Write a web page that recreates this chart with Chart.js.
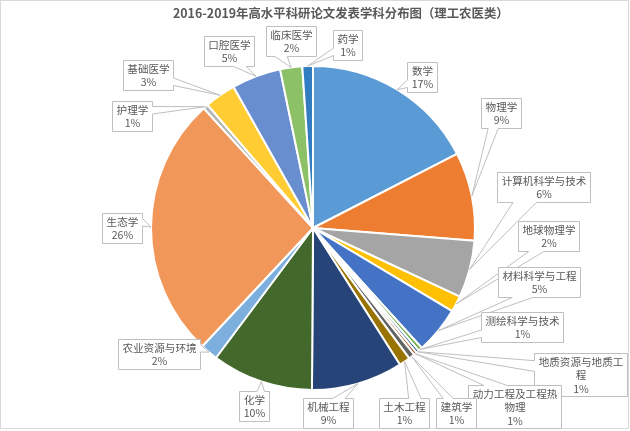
<!DOCTYPE html>
<html>
<head>
<meta charset="utf-8">
<script src="https://cdn.jsdelivr.net/npm/chart.js@4.4.0/dist/chart.umd.min.js"></script>
<style>
  html, body { margin: 0; padding: 0; background: #fff; }
  #wrap { position: relative; width: 630px; height: 431px; }
</style>
</head>
<body>
<div id="wrap"><canvas id="pie"></canvas></div>
<script>
const titleText = '2016-2019年高水平科研论文发表学科分布图（理工农医类）';

const subjects = ['数学', '物理学', '计算机科学与技术', '地球物理学', '材料科学与工程',
    '测绘科学与技术', '地质资源与地质工程', '动力工程及工程热物理', '建筑学', '土木工程',
    '机械工程', '化学', '农业资源与环境', '生态学', '护理学', '基础医学', '口腔医学',
    '临床医学', '药学'];

// share of the circle (%)
const shares = [17.4, 8.8, 5.7, 1.6, 4.7, 0.4, 0.3, 0.3, 0.6, 1.1,
    9.1, 10.1, 1.75, 26.2, 0.5, 3.1, 4.9, 2.2, 1.05];

// percentages as printed on the callouts
const shownPct = ['17%', '9%', '6%', '2%', '5%', '1%', '1%', '1%', '1%', '1%',
    '9%', '10%', '2%', '26%', '1%', '3%', '5%', '2%', '1%'];

const colors = ['#5B9BD5', '#ED7D31', '#A5A5A5', '#FFC000', '#4472C4', '#70AD47',
    '#255E91', '#9E480E', '#636363', '#997300', '#264478', '#43682B', '#7CAFDD',
    '#F1975A', '#B7B7B7', '#FFCD33', '#698ED0', '#8CC168', '#327DC2'];

// callout box centres, relative to the pie centre (layout only)
const calloutAt = [
    [108.5, -151], [187.5, -115.5], [230, -41.5], [235, 7.5], [225.5, 54],
    [209, 98.5], [267, 146], [201.5, 178.5], [142.5, 185], [91, 184.5],
    [15, 184.5], [-59, 178], [-154.5, 126], [-191, 0], [-181.5, -112],
    [-165.5, -153.5], [-84.5, -177], [-22.5, -187.5], [34, -183.5]
];

const labelFont = '10.6px "Noto Sans CJK SC", "Noto Sans", sans-serif';
const lineH = 13.5;

function wrapName(name) {
    const out = [];
    for (let i = 0; i < name.length; i += 8) out.push(name.slice(i, i + 8));
    return out;
}

// Excel style wedge-rectangle callout
function drawCallout(ctx, l, t, w, h, tx, ty) {
    const r = l + w, b = t + h;
    const dx = tx - (l + w / 2), dy = ty - (t + h / 2);
    const dz = Math.abs(dy) - Math.abs(dx * h / w);
    const x1 = l + w * (dx > 0 ? 7 : 2) / 12, x2 = l + w * (dx > 0 ? 10 : 5) / 12;
    const y1 = t + h * (dy > 0 ? 7 : 2) / 12, y2 = t + h * (dy > 0 ? 10 : 5) / 12;
    const side = dz > 0 ? (dy < 0 ? 'top' : 'bottom') : (dx < 0 ? 'left' : 'right');
    ctx.beginPath();
    ctx.moveTo(l, t);
    if (side === 'top') { ctx.lineTo(x1, t); ctx.lineTo(tx, ty); ctx.lineTo(x2, t); }
    ctx.lineTo(r, t);
    if (side === 'right') { ctx.lineTo(r, y1); ctx.lineTo(tx, ty); ctx.lineTo(r, y2); }
    ctx.lineTo(r, b);
    if (side === 'bottom') { ctx.lineTo(x2, b); ctx.lineTo(tx, ty); ctx.lineTo(x1, b); }
    ctx.lineTo(l, b);
    if (side === 'left') { ctx.lineTo(l, y2); ctx.lineTo(tx, ty); ctx.lineTo(l, y1); }
    ctx.closePath();
    ctx.fillStyle = '#FFFFFF';
    ctx.fill();
    ctx.strokeStyle = '#BFBFBF';
    ctx.lineWidth = 1;
    ctx.stroke();
}

const calloutPlugin = {
    id: 'callouts',
    afterDraw(chart) {
        const ctx = chart.ctx;
        const arcs = chart.getDatasetMeta(0).data;
        ctx.save();

        // chart frame
        ctx.strokeStyle = '#D9D9D9';
        ctx.lineWidth = 1;
        ctx.strokeRect(0.5, 0.5, 628, 428);

        // title
        ctx.fillStyle = '#595959';
        ctx.font = 'bold 12.4px "Noto Sans CJK SC", "Noto Sans", sans-serif';
        ctx.textAlign = 'left';
        ctx.textBaseline = 'middle';
        ctx.fillText(titleText, 173, 13);

        ctx.font = labelFont;
        arcs.forEach((arc, i) => {
            const p = arc.getProps(['x', 'y', 'startAngle', 'endAngle', 'outerRadius'], true);
            const mid = (p.startAngle + p.endAngle) / 2;
            const tx = p.x + Math.cos(mid) * p.outerRadius;
            const ty = p.y + Math.sin(mid) * p.outerRadius;
            const lines = wrapName(chart.data.labels[i]).concat([shownPct[i]]);
            const tw = Math.max(...lines.map(s => ctx.measureText(s).width));
            const w = Math.round(tw + 8), h = Math.round(lines.length * lineH + 2.5);
            const cx = p.x + calloutAt[i][0], cy = p.y + calloutAt[i][1];
            const l = Math.round(cx - w / 2) + 0.5, t = Math.round(cy - h / 2) + 0.5;
            drawCallout(ctx, l, t, w, h, tx, ty);
            ctx.fillStyle = '#595959';
            ctx.textAlign = 'center';
            ctx.textBaseline = 'middle';
            lines.forEach((s, k) => {
                ctx.fillText(s, l + w / 2, t + 1.5 + lineH * (k + 0.5));
            });
        });
        ctx.restore();
    }
};

new Chart(document.getElementById('pie'), {
    type: 'pie',
    data: {
        labels: subjects,
        datasets: [{
            data: shares,
            backgroundColor: colors,
            borderColor: '#FFFFFF',
            borderWidth: 2,
            hoverOffset: 0
        }]
    },
    options: {
        responsive: true,
        maintainAspectRatio: false,
        animation: false,
        layout: { padding: { top: 65, bottom: 40, left: 150, right: 154 } },
        plugins: {
            legend: { display: false },
            title: { display: false },
            tooltip: { enabled: false }
        }
    },
    plugins: [calloutPlugin]
});
</script>
</body>
</html>
